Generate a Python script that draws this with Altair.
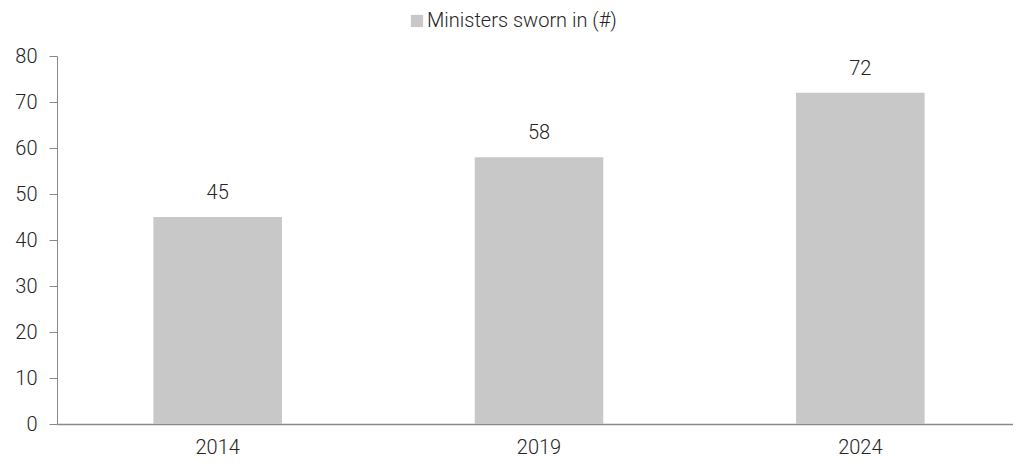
import altair as alt
import pandas as pd

years = ["2014", "2019", "2024"]
ministers = [45, 58, 72]
series_name = "Ministers sworn in (#)"

df = pd.DataFrame({"year": years, "value": ministers, "series": [series_name] * len(years)})

FONT = "Roboto Light, Roboto"
TEXT = "#262626"
AXIS = "#8a8a8a"
BAR = "#c8c8c8"
FS = 20

base = alt.Chart(df)

bars = base.mark_bar(color=BAR).encode(
    x=alt.X("year:N", sort=years, title=None,
            scale=alt.Scale(paddingInner=0.6, paddingOuter=0.3, range=[0, 964]),
            axis=alt.Axis(labelAngle=0, ticks=False, domainColor=AXIS, domainWidth=1.5,
                          labelFont=FONT, labelFontSize=FS, labelFontWeight=300,
                          labelColor=TEXT, labelPadding=13, grid=False)),
    y=alt.Y("value:Q", title=None,
            scale=alt.Scale(domain=[0, 80], nice=False),
            axis=alt.Axis(values=list(range(0, 81, 10)), grid=False, domainColor=AXIS,
                          tickColor=AXIS, tickSize=8, labelFont=FONT, labelFontSize=FS,
                          labelFontWeight=300, labelColor=TEXT, labelPadding=12)),
    color=alt.Color("series:N", title=None,
                    scale=alt.Scale(range=[BAR]),
                    legend=alt.Legend(orient="none", legendX=350, legendY=-45,
                                      symbolType="square", symbolSize=150,
                                      symbolStrokeWidth=0, labelFont=FONT,
                                      labelFontSize=FS, labelFontWeight=300,
                                      labelColor=TEXT, labelOffset=0, labelLimit=0)),
)

labels = base.mark_text(font=FONT, fontSize=FS, fontWeight=300, color=TEXT,
                        baseline="alphabetic", dy=-18).encode(
    x=alt.X("year:N", sort=years),
    y=alt.Y("value:Q"),
    text=alt.Text("value:Q"),
)

chart = (bars + labels).properties(
    width=956, height=368,
    padding={"left": 49, "top": 48, "right": 0, "bottom": 33},
    autosize=alt.AutoSizeParams(type="none"),
).configure_view(stroke=None)

chart.save("out.html", embed_options={"renderer": "svg", "actions": False})
